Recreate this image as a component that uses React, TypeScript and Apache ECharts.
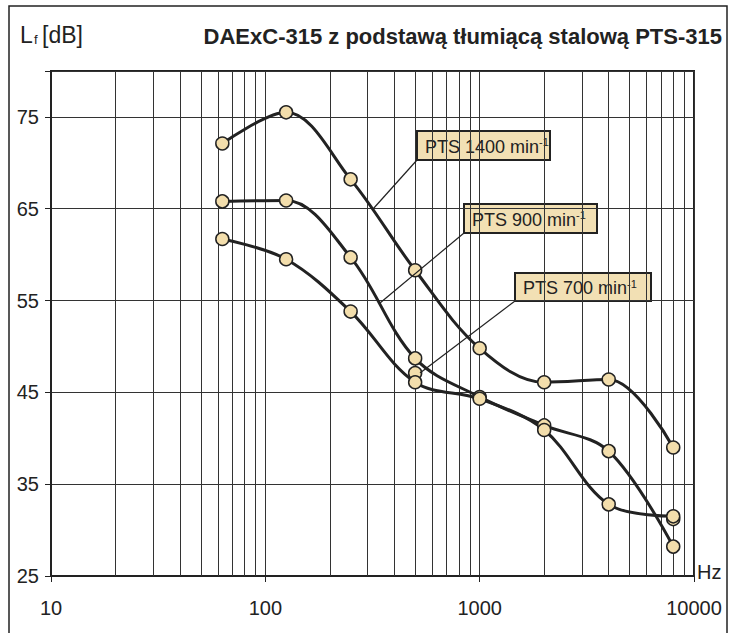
import React, { useEffect, useRef } from "react";
import * as echarts from "echarts";

// ---- data ----
const frequencies = [63, 125, 250, 500, 1000, 2000, 4000, 8000];
const pts1400 = [72.1, 75.5, 68.2, 58.3, 49.8, 46.1, 46.4, 39.0];
const pts900 = [65.8, 65.9, 59.7, 48.7, 44.5, 41.4, 38.6, 28.2];
const pts700 = [61.7, 59.5, 53.8, 46.1, 44.3, 40.9, 32.8, 31.5];
const extraPoints: [number, number][] = [
  [500, 47.1],
  [8000, 31.2],
];
const minorGridFreqs = [
  20, 30, 40, 50, 60, 70, 80, 90,
  200, 300, 400, 500, 600, 700, 800, 900,
  2000, 3000, 4000, 5000, 6000, 7000, 8000, 9000,
];
const xMin = 10;
const xMax = 10000;
const yMin = 25;
const yMax = 80;
const yInterval = 10;
const titleText = "DAExC-315 z podstawą tłumiącą stalową PTS-315";
const seriesLabels = ["PTS 1400 min", "PTS 900 min", "PTS 700 min"];

const FONT = "'Liberation Sans', Arial, sans-serif";
const INK = "#222";
const MARKER_FILL = "#F3DEAC";
const BOX_FILL = "#F2E0B4";

function pairs(vals: number[]) {
  return frequencies.map((f, i) => [f, vals[i]]);
}

function labelBox(
  text: string,
  x: number,
  y: number,
  w: number,
  h: number,
  lx: number,
  ly: number
) {
  return [
    {
      type: "line",
      shape: { x1: x, y1: y + h, x2: lx, y2: ly },
      style: { stroke: INK, lineWidth: 1.2 },
      z: 50,
      silent: true,
    },
    {
      type: "group",
      x,
      y,
      z: 51,
      silent: true,
      children: [
        {
          type: "rect",
          shape: { x: 0, y: 0, width: w, height: h },
          style: { fill: BOX_FILL, stroke: INK, lineWidth: 2 },
        },
        {
          type: "text",
          x: 8,
          y: h / 2 + 1,
          style: {
            text: `{a|${text}}{s|-1}`,
            fill: INK,
            verticalAlign: "middle",
            rich: {
              a: { fontSize: 18, fontFamily: FONT, fill: INK, lineHeight: 20 },
              s: { fontSize: 11, fontFamily: FONT, fill: INK, verticalAlign: "top", lineHeight: 12 },
            },
          },
        },
      ],
    },
  ];
}

export default function App() {
  const ref = useRef<HTMLDivElement>(null);
  useEffect(() => {
    document.body.style.margin = "0";
    if (!ref.current) return;
    const chart = echarts.init(ref.current, undefined, { renderer: "svg" });
    const lineSeries = [pts1400, pts900, pts700].map((vals, i) => ({
      name: seriesLabels[i],
      type: "line",
      data: pairs(vals),
      smooth: 0.35,
      showSymbol: false,
      symbol: "none",
      z: 3,
      lineStyle: { color: INK, width: 3 },
      silent: true,
    }));
    const markerData = [
      ...pairs(pts1400),
      ...pairs(pts900),
      ...pairs(pts700),
    ];
    chart.setOption({
      animation: false,
      backgroundColor: "#fff",
      textStyle: { fontFamily: FONT },
      grid: {
        left: 51,
        right: 40,
        top: 71,
        bottom: 57,
        show: true,
        borderColor: INK,
        borderWidth: 2,
        backgroundColor: "transparent",
      },
      xAxis: {
        type: "log",
        logBase: 10,
        min: xMin,
        max: xMax,
        axisLine: { show: true, lineStyle: { color: INK, width: 2 } },
        axisTick: { show: true, length: 6, lineStyle: { color: INK, width: 1 } },
        axisLabel: {
          fontSize: 20,
          color: INK,
          margin: 22,
          fontFamily: FONT,
          formatter: (v: number) => String(Math.round(v)),
        },
        splitLine: { show: true, lineStyle: { color: "#333", width: 1 } },
      },
      yAxis: {
        type: "value",
        min: yMin,
        max: yMax,
        interval: yInterval,
        axisLine: { show: true, lineStyle: { color: INK, width: 2 } },
        axisTick: { show: true, length: 6, lineStyle: { color: INK, width: 1 } },
        axisLabel: {
          fontSize: 20,
          color: INK,
          margin: 12,
          fontFamily: FONT,
          formatter: (v: number) => (v === yMax ? "" : String(v)),
        },
        splitLine: { show: true, lineStyle: { color: "#333", width: 1 } },
      },
      series: [
        {
          type: "line",
          data: [],
          silent: true,
          markLine: {
            silent: true,
            z: 1,
            symbol: ["none", "none"],
            label: { show: false },
            emphasis: { disabled: true },
            lineStyle: { color: "#333", width: 1, type: "solid" },
            data: minorGridFreqs.map((f) => ({ xAxis: f })),
          },
        },
        ...lineSeries,
        {
          type: "scatter",
          data: extraPoints,
          symbol: "circle",
          symbolSize: 13,
          z: 4,
          silent: true,
          itemStyle: { color: MARKER_FILL, borderColor: INK, borderWidth: 1.5, opacity: 1 },
        },
        {
          type: "scatter",
          data: markerData,
          symbol: "circle",
          symbolSize: 13,
          z: 5,
          silent: true,
          itemStyle: { color: MARKER_FILL, borderColor: INK, borderWidth: 1.5, opacity: 1 },
        },
      ],
      graphic: [
        {
          type: "rect",
          shape: { x: 9, y: 6, width: 718, height: 700 },
          style: { fill: "none", stroke: INK, lineWidth: 1.5 },
          silent: true,
        },
        {
          type: "text",
          x: 20,
          y: 35,
          style: { text: "L", font: `23px ${FONT}`, fill: INK, verticalAlign: "middle" },
        },
        {
          type: "text",
          x: 34,
          y: 39,
          style: { text: "f", font: `13px ${FONT}`, fill: INK, verticalAlign: "middle" },
        },
        {
          type: "text",
          x: 42,
          y: 35,
          style: { text: "[dB]", font: `23px ${FONT}`, fill: INK, verticalAlign: "middle" },
        },
        {
          type: "text",
          x: 722,
          y: 36,
          style: {
            text: titleText,
            font: `bold 22px ${FONT}`,
            fill: INK,
            align: "right",
            verticalAlign: "middle",
          },
        },
        {
          type: "text",
          x: 697,
          y: 572,
          style: { text: "Hz", font: `20px ${FONT}`, fill: INK, verticalAlign: "middle" },
        },
        ...labelBox(seriesLabels[0], 417, 131, 133, 29, 373, 209),
        ...labelBox(seriesLabels[1], 464, 204, 133, 29, 380, 303),
        ...labelBox(seriesLabels[2], 515, 273, 136, 28, 420, 373),
      ],
    });
    return () => chart.dispose();
  }, []);
  return <div ref={ref} style={{ width: 734, height: 633 }} />;
}
